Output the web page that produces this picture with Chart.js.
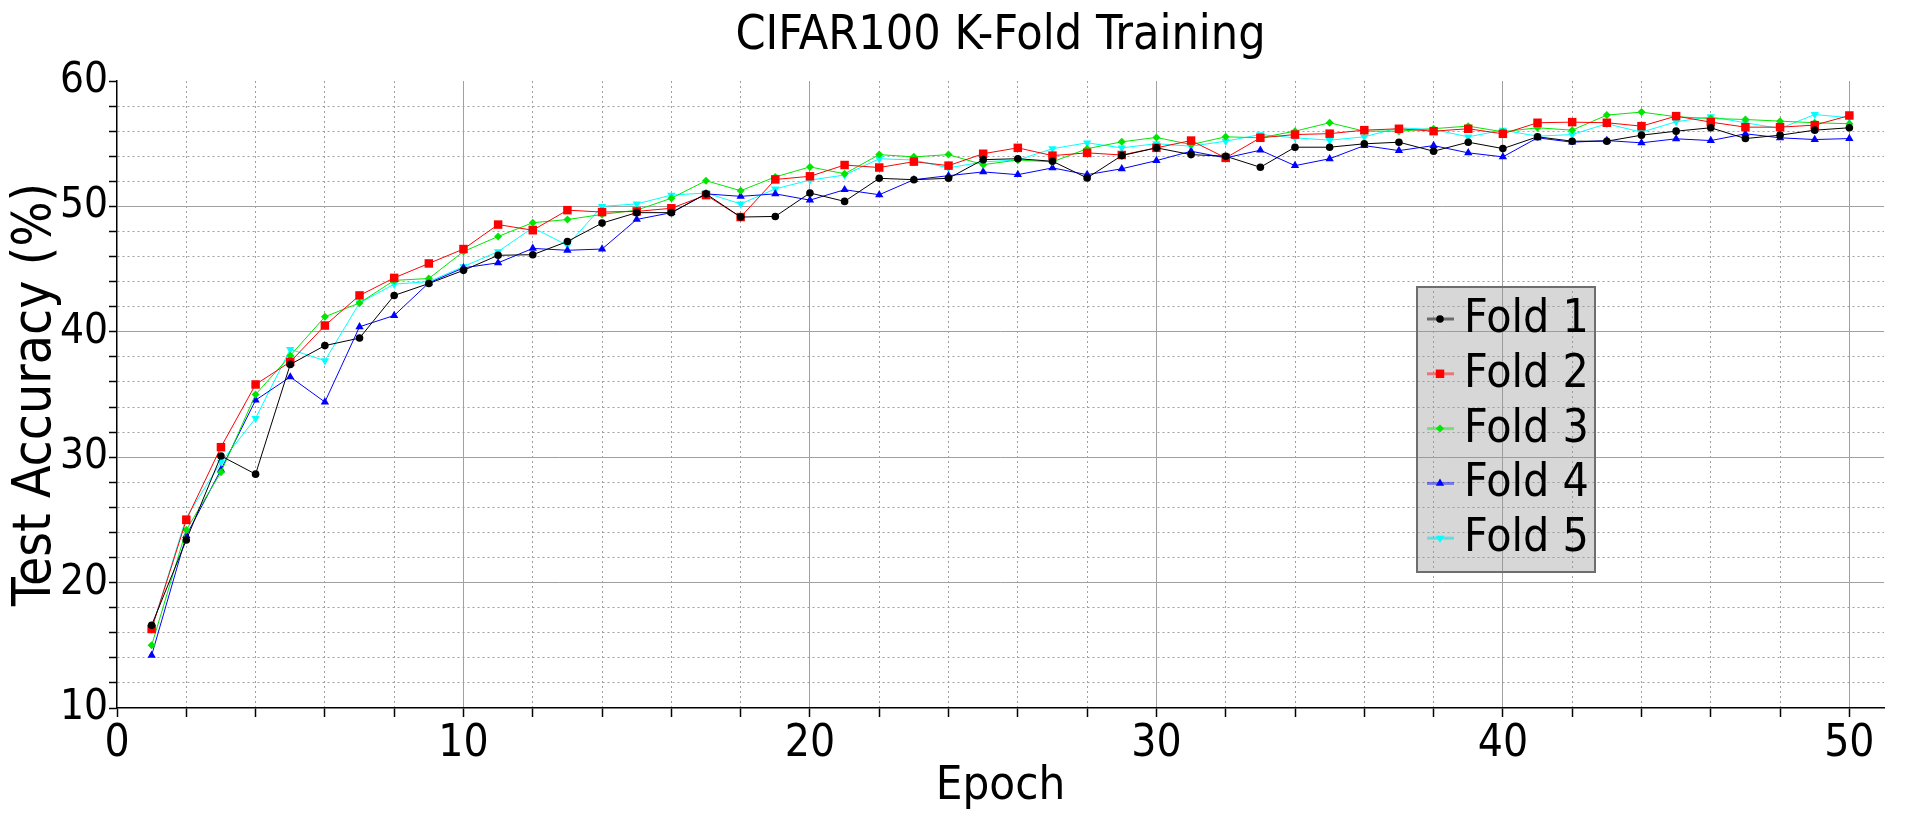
<!DOCTYPE html>
<html>
<head>
<meta charset="utf-8">
<title>CIFAR100 K-Fold Training</title>
<script src="https://cdn.jsdelivr.net/npm/chart.js@4.4.1/dist/chart.umd.min.js"></script>
<style>
  html, body { margin: 0; padding: 0; background: #fff; }
  canvas { display: block; }
</style>
</head>
<body>
<canvas id="chart" width="1920" height="832"></canvas>
<script>
const epochs = [1, 2, 3, 4, 5, 6, 7, 8, 9, 10, 11, 12, 13, 14, 15, 16, 17, 18, 19, 20, 21, 22, 23, 24, 25,
  26, 27, 28, 29, 30, 31, 32, 33, 34, 35, 36, 37, 38, 39, 40, 41, 42, 43, 44, 45, 46, 47, 48, 49, 50];

const fold1 = [16.6, 23.4, 30.1, 28.65, 37.4, 38.9, 39.5, 42.9, 43.85, 44.9, 46.1, 46.15, 47.2, 48.67, 49.5,
  49.5, 51.0, 49.15, 49.2, 51.07, 50.4, 52.24, 52.13, 52.24, 53.73, 53.8, 53.6, 52.27, 54.05, 54.67,
  54.13, 54.0, 53.12, 54.72, 54.72, 54.99, 55.12, 54.4, 55.12, 54.61, 55.55, 55.2, 55.2, 55.68, 56.0,
  56.27, 55.41, 55.68, 56.08, 56.27];
const fold2 = [16.3, 25.0, 30.8, 35.8, 37.6, 40.5, 42.9, 44.3, 45.45, 46.6, 48.55, 48.1, 49.7, 49.55, 49.6,
  49.85, 50.9, 49.15, 52.15, 52.4, 53.3, 53.1, 53.57, 53.25, 54.2, 54.67, 54.05, 54.27, 54.1, 54.67,
  55.25, 53.87, 55.47, 55.73, 55.8, 56.08, 56.19, 56.0, 56.19, 55.79, 56.67, 56.72, 56.67, 56.4, 57.2,
  56.72, 56.32, 56.32, 56.48, 57.25];
const fold3 = [15.0, 24.2, 28.8, 35.0, 38.1, 41.2, 42.3, 44.1, 44.25, 46.4, 47.6, 48.7, 48.95, 49.36, 49.7,
  50.65, 52.05, 51.25, 52.35, 53.15, 52.6, 54.13, 53.95, 54.13, 53.33, 53.7, 53.55, 54.6, 55.15, 55.5,
  54.93, 55.55, 55.47, 56.0, 56.67, 56.0, 56.0, 56.2, 56.4, 55.95, 56.27, 56.08, 57.28, 57.52, 57.15,
  57.01, 56.93, 56.8, 56.67, 56.59];
const fold4 = [14.2, 23.75, 29.0, 34.55, 36.4, 34.4, 40.4, 41.3, 43.9, 45.1, 45.5, 46.65, 46.5, 46.6, 48.96,
  49.5, 51.0, 50.8, 51.0, 50.5, 51.33, 50.93, 52.13, 52.45, 52.75, 52.53, 53.07, 52.53, 53.0, 53.65,
  54.4, 53.87, 54.48, 53.25, 53.8, 54.85, 54.45, 54.85, 54.27, 53.95, 55.47, 55.12, 55.25, 55.07, 55.39,
  55.25, 55.79, 55.47, 55.33, 55.41];
const fold5 = [16.3, 25.2, 29.6, 33.1, 38.6, 37.7, 42.3, 43.8, 44.0, 45.2, 46.4, 48.3, 46.9, 50.0, 50.2,
  50.9, 51.07, 50.2, 51.4, 52.1, 52.5, 53.8, 53.7, 53.07, 53.55, 53.7, 54.6, 55.07, 54.67, 55.0,
  54.8, 55.2, 55.73, 55.47, 55.28, 55.55, 56.27, 56.13, 55.55, 56.08, 55.6, 55.73, 56.59, 55.92, 56.75,
  57.15, 56.67, 56.21, 57.33, 57.07];

const seriesNames = ["Fold 1", "Fold 2", "Fold 3", "Fold 4", "Fold 5"];
const xTickLabels = [0, 10, 20, 30, 40, 50];
const yTickLabels = [10, 20, 30, 40, 50, 60];

const FONT = '"DejaVu Sans Condensed", "DejaVu Sans", sans-serif';
const GRID = "#a0a0a0";

const styles = [
  { color: "#000000", legend: "rgba(0,0,0,0.5)", pointStyle: "circle", radius: 3.8, rotation: 0 },
  { color: "#ff0000", legend: "rgba(255,0,0,0.45)", pointStyle: "rect", radius: 6, rotation: 0 },
  { color: "#00e600", legend: "rgba(0,230,0,0.45)", pointStyle: "rectRot", radius: 4, rotation: 0 },
  { color: "#0000ff", legend: "rgba(0,0,255,0.45)", pointStyle: "triangle", radius: 4.8, rotation: 0 },
  { color: "#00ffff", legend: "rgba(0,230,230,0.55)", pointStyle: "triangle", radius: 4.8, rotation: 180 },
];

const values = [fold1, fold2, fold3, fold4, fold5];

const datasets = values.map((vals, i) => ({
  label: seriesNames[i],
  data: epochs.map((e, j) => ({ x: e, y: vals[j] })),
  borderColor: styles[i].color,
  backgroundColor: styles[i].color,
  pointBackgroundColor: styles[i].color,
  pointBorderColor: styles[i].color,
  pointBorderWidth: 0,
  pointStyle: styles[i].pointStyle,
  pointRadius: styles[i].radius,
  pointRotation: styles[i].rotation,
  borderWidth: 1,
  tension: 0,
  legendLine: styles[i].legend,
}));

// grid line look: solid at labelled values, dotted otherwise
function gridColor(hidden) {
  return (ctx) => {
    if (!ctx.tick) return GRID;
    if (hidden.includes(ctx.tick.value)) return "rgba(0,0,0,0)";
    return GRID;
  };
}
function gridDash(labels) {
  return (ctx) => {
    if (!ctx.tick) return [];
    return labels.includes(ctx.tick.value) ? [] : [2, 3];
  };
}

// legend drawn inside the plot, like the original
const insideLegend = {
  id: "insideLegend",
  afterDatasetsDraw(chart) {
    const ctx = chart.ctx;
    const x = 1417, y = 287, w = 178, h = 285;
    ctx.save();
    ctx.fillStyle = "rgba(150,150,150,0.38)";
    ctx.fillRect(x, y, w, h);
    ctx.strokeStyle = "#6e6e6e";
    ctx.lineWidth = 2;
    ctx.strokeRect(x, y, w, h);
    chart.data.datasets.forEach((ds, i) => {
      const cy = y + 32 + i * 54.8;
      ctx.strokeStyle = ds.legendLine;
      ctx.lineWidth = 3;
      ctx.beginPath();
      ctx.moveTo(x + 10, cy);
      ctx.lineTo(x + 37, cy);
      ctx.stroke();
      ctx.fillStyle = ds.pointBackgroundColor;
      ctx.strokeStyle = ds.pointBorderColor;
      if (Chart.helpers && Chart.helpers.drawPoint) {
        Chart.helpers.drawPoint(ctx, {
          pointStyle: ds.pointStyle,
          radius: ds.pointRadius,
          rotation: ds.pointRotation,
          borderWidth: 0,
        }, x + 23, cy);
      } else {
        ctx.beginPath();
        ctx.arc(x + 23, cy, ds.pointRadius, 0, Math.PI * 2);
        ctx.fill();
      }
      ctx.fillStyle = "#000";
      ctx.font = "46px " + FONT;
      ctx.textBaseline = "middle";
      ctx.textAlign = "left";
      ctx.fillText(ds.label, x + 47, cy + 1);
    });
    ctx.restore();
  },
};

const config = {
  type: "line",
  data: { datasets },
  options: {
    responsive: false,
    animation: false,
    devicePixelRatio: 1,
    layout: { padding: { left: 0, right: 36, top: 0, bottom: 0 } },
    plugins: {
      legend: { display: false },
      tooltip: { enabled: false },
      title: {
        display: true,
        text: "CIFAR100 K-Fold Training",
        color: "#000",
        fullSize: false,
        font: { family: FONT, size: 48, weight: "normal" },
        padding: { top: 8, bottom: 15.4 },
      },
    },
    scales: {
      x: {
        type: "linear",
        min: 0,
        max: 51,
        afterFit: (s) => { s.height = 124; },
        ticks: {
          stepSize: 2,
          includeBounds: false,
          autoSkip: false,
          maxRotation: 0,
          padding: 1,
          color: "#000",
          font: { family: FONT, size: 44 },
          callback: (v) => (xTickLabels.includes(v) ? String(v) : ""),
        },
        grid: {
          color: gridColor([0]),
          lineWidth: 1,
          tickLength: 9,
          tickColor: "#000",
          tickWidth: 1.5,
        },
        border: { color: "#000", width: 1.5, dash: gridDash(xTickLabels) },
        title: {
          display: true,
          text: "Epoch",
          color: "#000",
          font: { family: FONT, size: 47 },
          padding: { top: 0, bottom: 17 },
        },
      },
      y: {
        min: 10,
        max: 60,
        afterFit: (s) => { s.width = 117; },
        ticks: {
          stepSize: 2,
          autoSkip: false,
          padding: 1,
          color: "#000",
          font: { family: FONT, size: 42 },
          callback: (v) => (yTickLabels.includes(v) ? String(v) : ""),
        },
        grid: {
          color: gridColor([10, 60]),
          lineWidth: 1,
          tickLength: 8,
          tickColor: "#000",
          tickWidth: 1.5,
        },
        border: { color: "#000", width: 1.5, dash: gridDash(yTickLabels) },
        title: {
          display: true,
          text: "Test Accuracy (%)",
          color: "#000",
          font: { family: FONT, size: 53 },
          padding: { top: 4, bottom: 0 },
        },
      },
    },
  },
  plugins: [insideLegend],
};

const myChart = new Chart(document.getElementById("chart"), config);
</script>
</body>
</html>
